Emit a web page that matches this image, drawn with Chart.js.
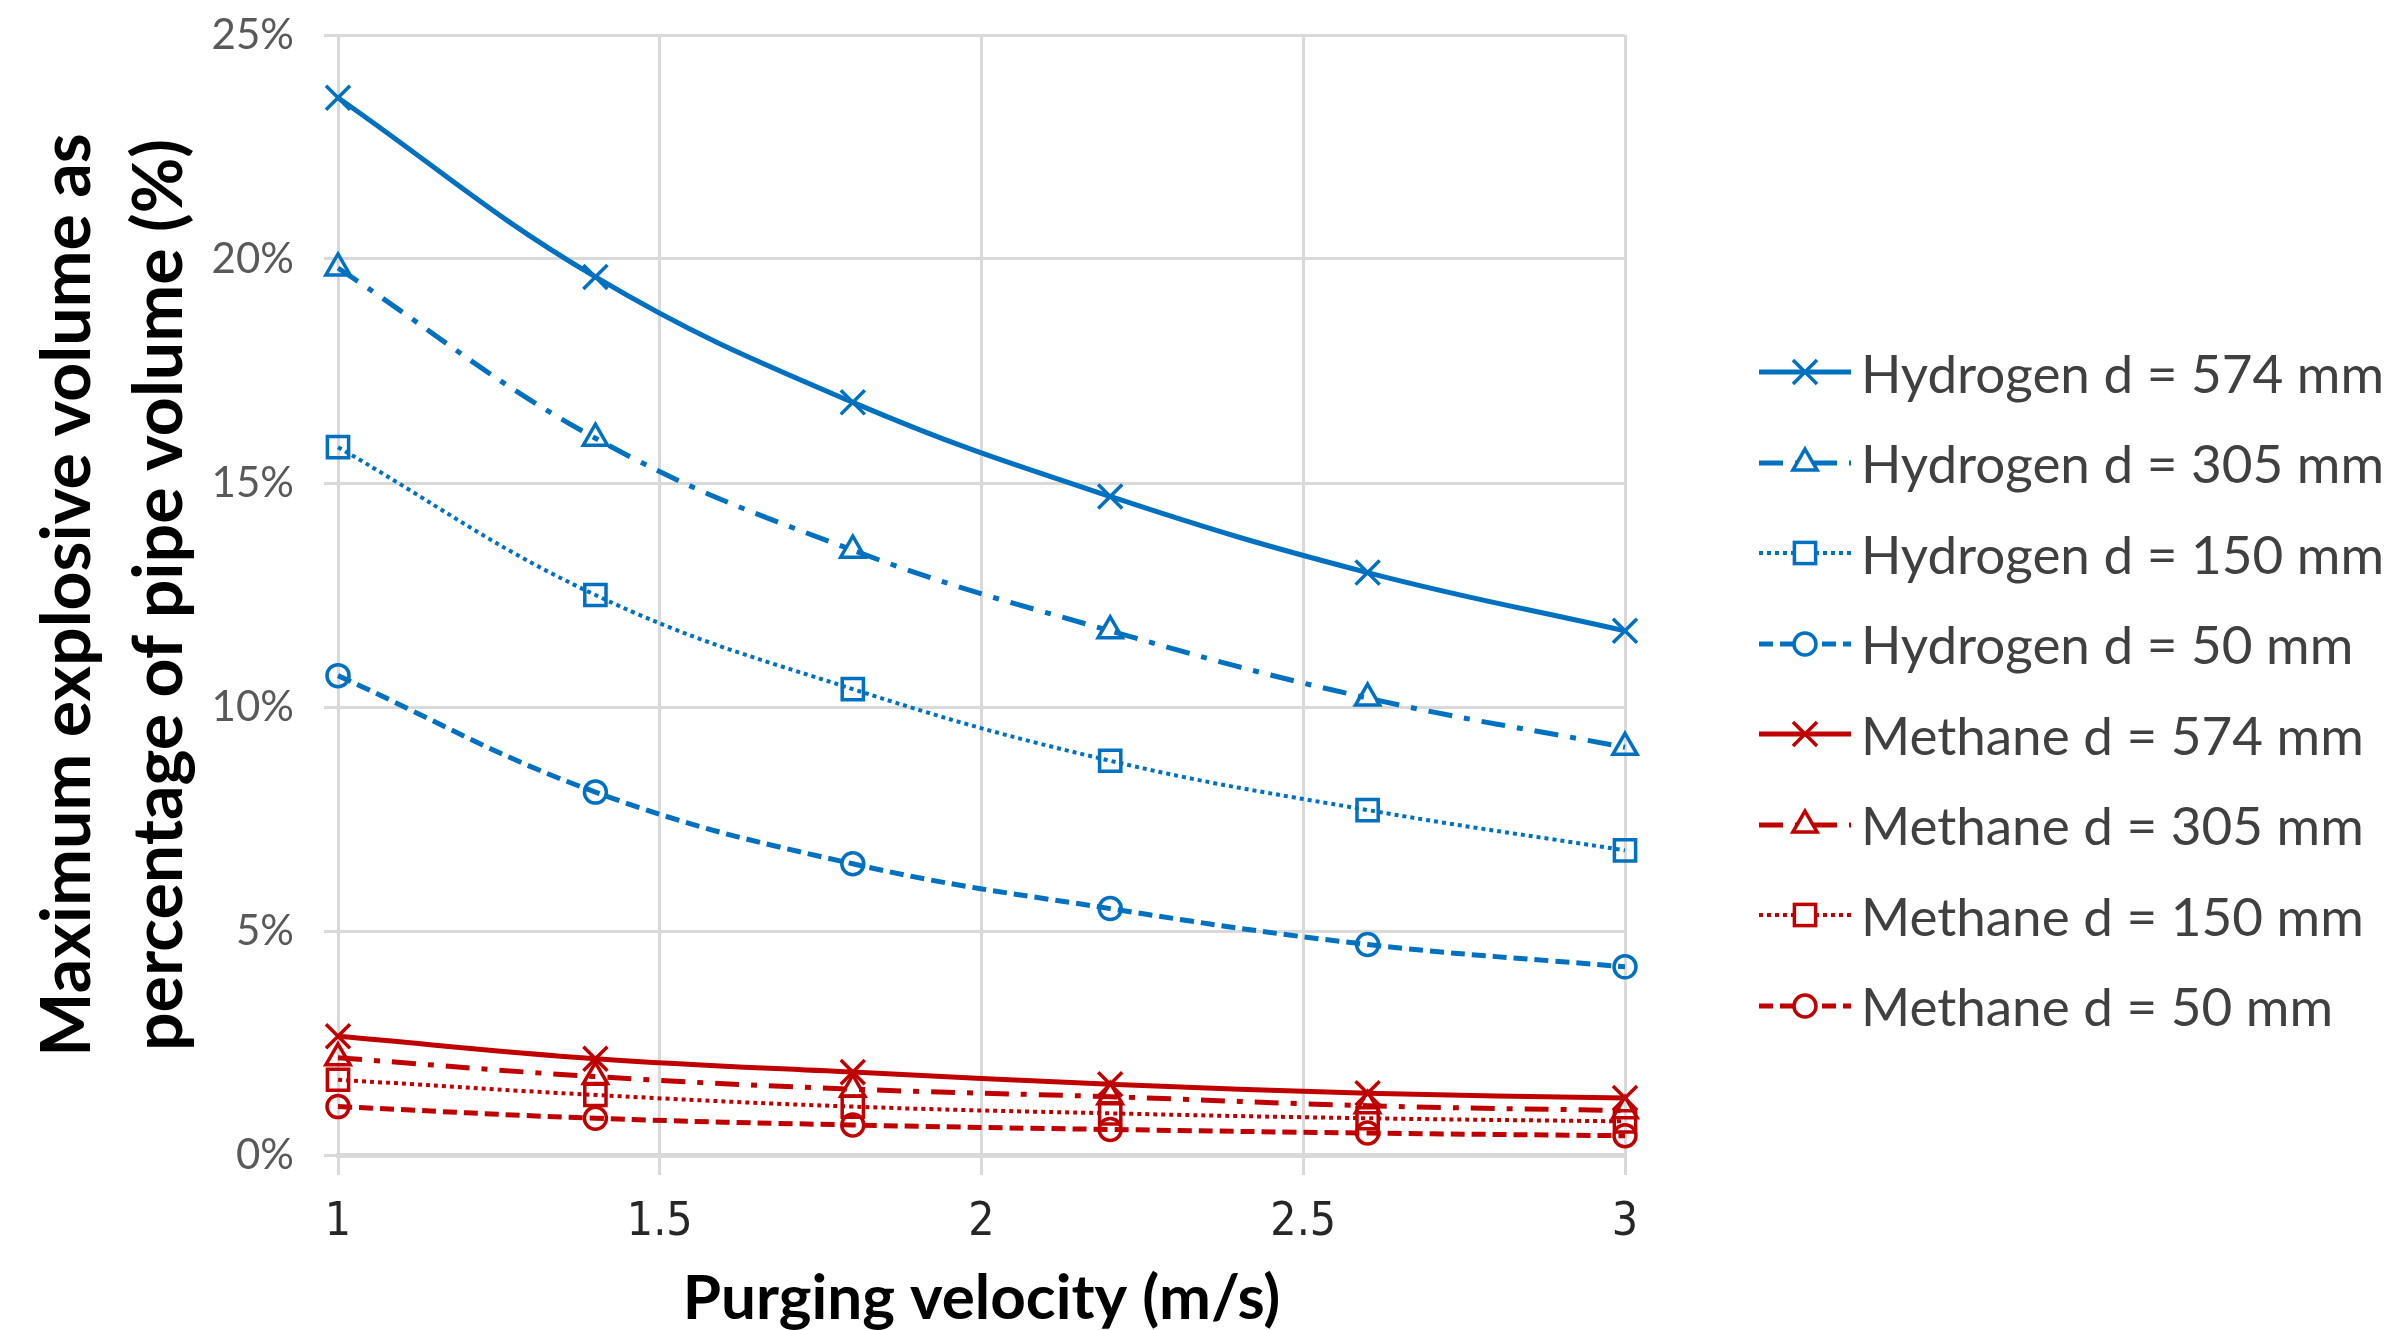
<!DOCTYPE html>
<html>
<head>
<meta charset="utf-8">
<script src="https://cdn.jsdelivr.net/npm/chart.js@4.4.0/dist/chart.umd.min.js"></script>
<style>
  body { margin: 0; background: #fff; }
  .wrap { position: relative; width: 2388px; height: 1330px; overflow: hidden; }
  .legend { position: absolute; left: 1759px; top: 327px; }
  .legend-row { display: flex; align-items: center; height: 90.5px; white-space: nowrap; }
  .legend-row span { font-family: Lato, "Open Sans", sans-serif; font-size: 53px; color: #404040; margin-left: 10px; }
</style>
</head>
<body>
<div class="wrap">
  <canvas id="chart" width="2388" height="1330"></canvas>
  <div class="legend" id="legend"></div>
</div>
<script>
// purging velocity (m/s)
const velocity = [1, 1.4, 1.8, 2.2, 2.6, 3];

// max explosive volume (% of pipe volume)
const hydrogen574 = [23.6, 19.6, 16.8, 14.7, 13.0, 11.7];
const hydrogen305 = [19.8, 16.0, 13.5, 11.7, 10.2, 9.1];
const hydrogen150 = [15.8, 12.5, 10.4, 8.8, 7.7, 6.8];
const hydrogen50 = [10.7, 8.1, 6.5, 5.5, 4.7, 4.2];
const methane574 = [2.65, 2.15, 1.85, 1.58, 1.38, 1.27];
const methane305 = [2.17, 1.75, 1.47, 1.3, 1.1, 0.99];
const methane150 = [1.68, 1.34, 1.08, 0.93, 0.82, 0.75];
const methane50 = [1.08, 0.82, 0.67, 0.57, 0.49, 0.43];

const seriesLabels = [
  "Hydrogen d = 574 mm", "Hydrogen d = 305 mm", "Hydrogen d = 150 mm", "Hydrogen d = 50 mm",
  "Methane d = 574 mm", "Methane d = 305 mm", "Methane d = 150 mm", "Methane d = 50 mm"
];

const blue = "#0070C0";
const red = "#C00000";

const toPoints = (values) => velocity.map((v, i) => ({ x: v, y: values[i] }));

// one style per pipe diameter
const styles = [
  { dash: [], width: 5, point: "crossRot", radius: 17 },
  { dash: [24, 12, 6, 12], width: 5, point: "triangle", radius: 14 },
  { dash: [4, 4], width: 4, point: "rect", radius: 15 },
  { dash: [14, 7], width: 5, point: "circle", radius: 11 },
];

const values = [hydrogen574, hydrogen305, hydrogen150, hydrogen50, methane574, methane305, methane150, methane50];

const datasets = values.map((vals, i) => {
  const s = styles[i % 4];
  const color = i < 4 ? blue : red;
  return {
    label: seriesLabels[i],
    data: toPoints(vals),
    borderColor: color,
    borderWidth: s.width,
    borderDash: s.dash,
    tension: 0.4,
    pointStyle: s.point,
    pointRadius: s.radius,
    pointBorderWidth: 3.5,
    pointBorderColor: color,
    pointBackgroundColor: "rgba(0,0,0,0)",
    clip: false,
  };
});

const ctx = document.getElementById("chart").getContext("2d");

const chart = new Chart(ctx, {
  type: "line",
  data: { datasets: datasets },
  options: {
    responsive: false,
    animation: false,
    layout: { autoPadding: false, padding: { left: 0, top: 35, right: 763, bottom: 0 } },
    plugins: { legend: { display: false }, tooltip: { enabled: false } },
    scales: {
      x: {
        type: "linear",
        min: 1,
        max: 3,
        afterFit: (scale) => { scale.height = 175; },
        ticks: {
          stepSize: 0.5,
          padding: 20,
          color: "#262626",
          font: { family: "'Liberation Sans Narrow', 'DejaVu Sans Condensed', sans-serif", size: 46 },
          callback: (v) => String(v),
        },
        grid: { color: "#d9d9d9", lineWidth: 3, tickLength: 20 },
        border: { color: "#d9d9d9", width: 5 },
        title: {
          display: true,
          text: "Purging velocity (m/s)",
          color: "#000",
          padding: { top: 0, bottom: 0 },
          font: { family: "Lato, sans-serif", size: 62, weight: "bold", lineHeight: 1 },
        },
      },
      y: {
        min: 0,
        max: 25,
        afterFit: (scale) => {
          scale.width = 338;
          scale.paddingTop = 0;
          scale.paddingBottom = 0;
        },
        ticks: {
          stepSize: 5,
          padding: 30,
          color: "#595959",
          font: { family: "Lato, sans-serif", size: 42 },
          callback: (v) => v + "%",
        },
        grid: { color: "#d9d9d9", lineWidth: 3, tickLength: 14 },
        border: { color: "#d9d9d9", width: 3 },
        title: {
          display: true,
          text: ["Maximum explosive volume as", "percentage of pipe volume (%)"],
          color: "#000",
          padding: { top: 23, bottom: 0 },
          font: { family: "Lato, sans-serif", size: 68, weight: "bold", lineHeight: 1.34 },
        },
      },
    },
  },
});

// html legend with svg line samples
const markerSvg = (style, color, r) => {
  const cx = 46, cy = 30;
  if (style === "crossRot") {
    const d = r * Math.SQRT1_2;
    return `<path d="M${cx - d} ${cy - d}L${cx + d} ${cy + d}M${cx - d} ${cy + d}L${cx + d} ${cy - d}" stroke="${color}" stroke-width="3.5" fill="none"/>`;
  }
  if (style === "triangle") {
    const a = r * Math.sin(Math.PI / 3);
    return `<polygon points="${cx},${cy - r} ${cx + a},${cy + r / 2} ${cx - a},${cy + r / 2}" stroke="${color}" stroke-width="3.5" fill="#fff"/>`;
  }
  if (style === "rect") {
    const d = r * Math.SQRT1_2;
    return `<rect x="${cx - d}" y="${cy - d}" width="${2 * d}" height="${2 * d}" stroke="${color}" stroke-width="3.5" fill="#fff"/>`;
  }
  return `<circle cx="${cx}" cy="${cy}" r="${r}" stroke="${color}" stroke-width="3.5" fill="#fff"/>`;
};

const legend = document.getElementById("legend");
chart.data.datasets.forEach((ds) => {
  const row = document.createElement("div");
  row.className = "legend-row";
  const dash = ds.borderDash.length ? `stroke-dasharray="${ds.borderDash.join(" ")}"` : "";
  row.innerHTML = `<svg width="92" height="60"><line x1="0" y1="30" x2="92" y2="30" stroke="${ds.borderColor}" stroke-width="${ds.borderWidth}" ${dash}/>${markerSvg(ds.pointStyle, ds.borderColor, ds.pointRadius)}</svg><span>${ds.label}</span>`;
  legend.appendChild(row);
});
</script>
</body>
</html>
